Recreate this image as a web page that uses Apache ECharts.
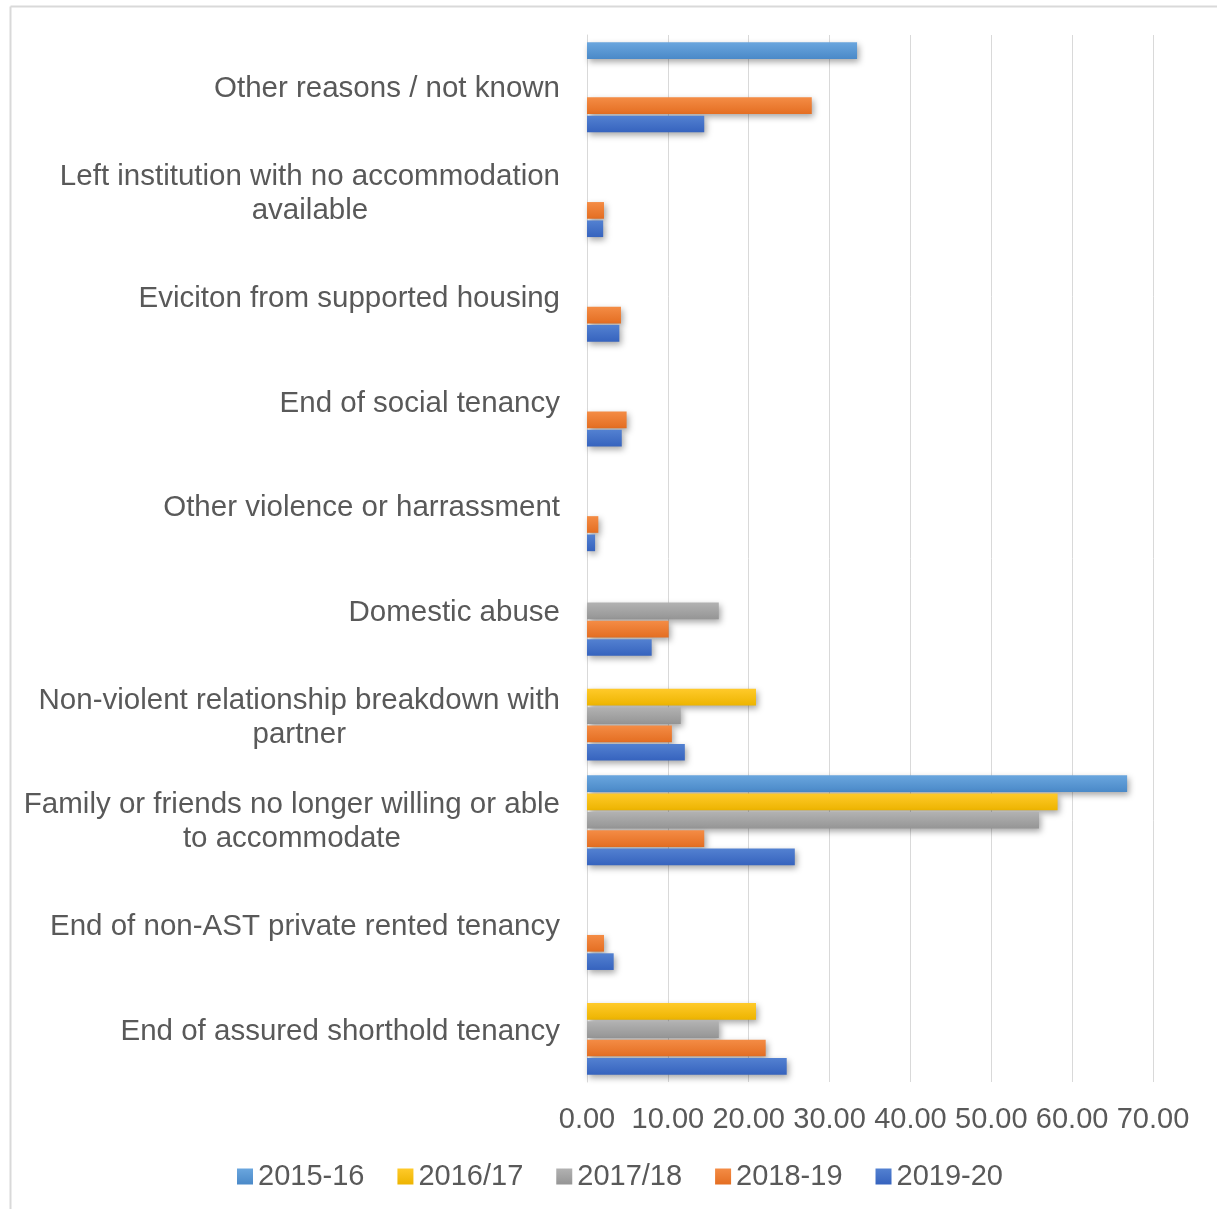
<!DOCTYPE html>
<html>
<head>
<meta charset="utf-8">
<script src="https://cdn.jsdelivr.net/npm/echarts@6/dist/echarts.min.js"></script>
<style>
  html, body { margin: 0; padding: 0; background: #fff; }
  #chart { width: 1217px; height: 1209px; }
</style>
</head>
<body>
<div id="chart"></div>
<script>
// Categories, top to bottom
const categories = [
  'Other reasons / not known',
  'Left institution with no accommodation available',
  'Eviciton from supported housing',
  'End of social tenancy',
  'Other violence or harrassment',
  'Domestic abuse',
  'Non-violent relationship breakdown with partner',
  'Family or friends no longer willing or able to accommodate',
  'End of non-AST private rented tenancy',
  'End of assured shorthold tenancy'
];
const seriesNames = ['2015-16', '2016/17', '2017/18', '2018-19', '2019-20'];
const v2015_16 = [33.4, null, null, null, null, null, null, 66.8, null, null];
const v2016_17 = [null, null, null, null, null, null, 20.9, 58.2, null, 20.9];
const v2017_18 = [null, null, null, null, null, 16.3, 11.6, 55.9, null, 16.3];
const v2018_19 = [27.8, 2.1, 4.2, 4.9, 1.4, 10.1, 10.5, 14.5, 2.1, 22.1];
const v2019_20 = [14.5, 2.0, 4.0, 4.3, 1.0, 8.0, 12.1, 25.7, 3.3, 24.7];
const xTicks = [0, 10, 20, 30, 40, 50, 60, 70];

const values = [v2015_16, v2016_17, v2017_18, v2018_19, v2019_20];
const topCols = ['#6AA6DE', '#FFCA2A', '#B2B2B2', '#F48C45', '#5381D1'];
const botCols = ['#4A89C8', '#EDB400', '#959595', '#E46E22', '#3663BE'];

const font = '"Liberation Sans", Arial, sans-serif';
const labelSize = 29.5;
const wrapWidth = 550;

// Wrap category labels, then centre each line inside the right-aligned block
const ctx = document.createElement('canvas').getContext('2d');
ctx.font = labelSize + 'px ' + font;
function wrapLabel(s) {
  const words = s.split(' ');
  const lines = [];
  let cur = '';
  words.forEach(w => {
    const t = cur ? cur + ' ' + w : w;
    if (cur && ctx.measureText(t).width > wrapWidth) { lines.push(cur); cur = w; }
    else cur = t;
  });
  if (cur) lines.push(cur);
  return lines.map(l => '{c|' + l + '}').join('\n');
}

const chart = echarts.init(document.getElementById('chart'));

chart.setOption({
  animation: false,
  backgroundColor: '#fff',
  textStyle: { fontFamily: font },
  graphic: [
    { type: 'line', shape: { x1: 10.5, y1: 6.5, x2: 1217, y2: 6.5 }, style: { stroke: '#D9D9D9', lineWidth: 2 } },
    { type: 'line', shape: { x1: 10.5, y1: 6.5, x2: 10.5, y2: 1209 }, style: { stroke: '#D9D9D9', lineWidth: 2 } }
  ],
  grid: { left: 587, right: 64, top: 35, bottom: 127, containLabel: false },
  legend: {
    data: seriesNames,
    left: 232,
    top: 1157,
    itemWidth: 16,
    itemHeight: 16,
    itemGap: 33,
    icon: 'rect',
    textStyle: { fontSize: 29, color: '#595959', fontFamily: font }
  },
  xAxis: {
    type: 'value',
    min: xTicks[0], max: xTicks[xTicks.length - 1], interval: xTicks[1] - xTicks[0],
    axisLine: { show: false },
    axisTick: { show: false },
    splitLine: { show: true, lineStyle: { color: '#D9D9D9', width: 1 } },
    axisLabel: {
      fontSize: 29, color: '#595959', fontFamily: font, margin: 23,
      formatter: function (v) { return v.toFixed(2); }
    }
  },
  yAxis: {
    type: 'category',
    data: categories,
    inverse: true,
    axisLine: { show: true, lineStyle: { color: '#D9D9D9', width: 1 } },
    axisTick: { show: false },
    axisLabel: {
      fontSize: labelSize, color: '#595959', fontFamily: font, margin: 27,
      lineHeight: 34, align: 'right', interval: 0, padding: [4, 0, 0, 0],
      formatter: wrapLabel,
      rich: {
        c: { align: 'center', fontSize: labelSize, color: '#595959', fontFamily: font, lineHeight: 34 }
      }
    }
  },
  series: seriesNames.map((name, i) => ({
    name: name,
    type: 'bar',
    data: values[i],
    barGap: '10%',
    barCategoryGap: '14%',
    itemStyle: {
      color: new echarts.graphic.LinearGradient(0, 0, 0, 1, [
        { offset: 0, color: topCols[i] },
        { offset: 1, color: botCols[i] }
      ]),
      shadowColor: 'rgba(0,0,0,0.35)',
      shadowBlur: 6,
      shadowOffsetX: 2,
      shadowOffsetY: 3
    }
  }))
});
</script>
</body>
</html>
